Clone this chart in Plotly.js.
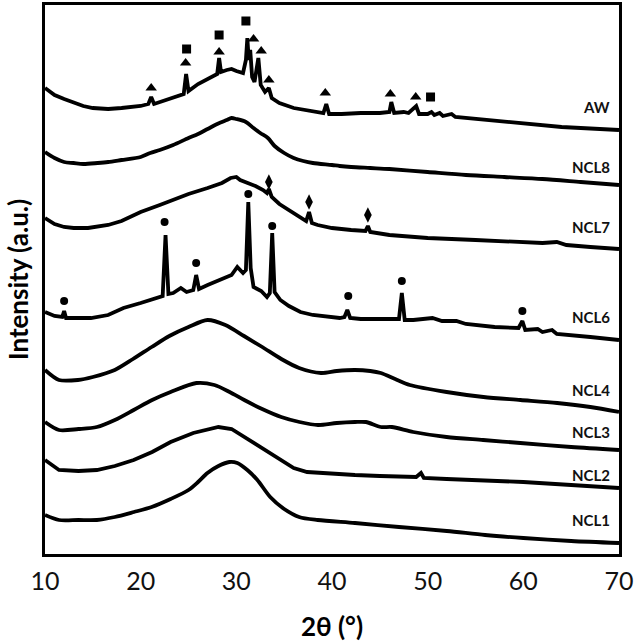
<!DOCTYPE html>
<html><head><meta charset="utf-8">
<script src="https://cdn.plot.ly/plotly-3.0.1.min.js"></script>
<style>html,body{margin:0;padding:0;background:#fff}</style>
</head><body><div id="chart" style="width:634px;height:642px"></div>
<script>
// 2θ (degrees) and intensity (a.u., stacked offsets)
const awX = [10,11,12,13,14,15,16.6,18,20,20.8,21.1,21.4,22,23,24,24.5,24.75,25.0,26,27,28,28.2,28.4,29,29.5,30,30.7,31.0,31.15,31.3,31.45,31.65,31.9,32.3,32.55,33.0,33.4,33.7,34.5,36,38,39.1,39.4,39.7,41,43,45,46.0,46.2,46.5,47.5,48.0,48.8,49.1,50.0,50.4,50.7,51.25,51.6,52.5,52.9,54,56,58,60,62,64,66,68,70];
const awY = [467,460,456,452,449,447,446,447,449,451,458,451,453,456,459,461,481,464,471,476,481,497,483,485,486,484,482,495,517,495,505,478,473,497,470,463,467,457,452,447,444,442,451,441,441,442,442,443,453,442,443,442,449,441,441,443,440,442,439,441,438,437,435,433,431,429,428,427,426,425];

const ncl8X = [10,11,12,13,14,15.5,16.6,18,20,21,22,23.4,25,26,27,28,29,29.5,30,31,31.8,32.5,33.3,34,35,36,37,38,40,40.8,42,44,46,50,54,58,62,66,70];
const ncl8Y = [403,397,393,392,391,392,393,395,398,402,405,410,417,421,426,431,435,437,436,433,427,422,417,409,402,397,394,392,390,389,388,387,386,383,380,378,376,373,370];

const ncl7X = [10,11,12,13,14.5,16.6,18,20,22,23.4,25,27,28.5,29.4,30,30.4,31,32,32.8,33.2,33.4,33.7,34.5,35.5,36.5,37.3,37.6,37.9,38.5,40,42,43.5,43.75,44.0,46,50,55,60,62,63.5,64.5,67,70];
const ncl7Y = [337,331,328,327,327,330,334,343,350,355,361,367,372,377,378,375,373,369,365,362,366,358,351,345,339,334,343,332,330,327,325,324,329,323,320,317,315,313,312,313,310,308,306];

const ncl6X = [10,11.0,11.8,12.0,12.2,13,14.8,16.6,18.2,20,21.6,22.3,22.6,22.9,23.4,24.2,24.8,25.5,25.8,26.1,27,28,28.6,29.5,30.1,30.7,31.0,31.25,31.5,31.8,32.6,33.2,33.5,33.75,34.0,34.6,35.5,36.7,38,40,40.8,41.3,41.6,41.9,43,45,47.0,47.3,47.6,48.5,50.5,51.5,53.0,54,55.1,57,59.5,59.9,60.2,61.5,62,63,63.5,65,67,70];
const ncl6Y = [243,239,238,244,237,237,237,240,247,252,257,259,320,261,262,267,263,265,280,266,270,274,277,280,288,282,285,353,287,268,264,258,262,322,263,255,249,243,240,238,237,238,245,237,236,236,236,262,235,235,237,234,234,231,230,228,227,234,225,226,223,225,221,220,218,215];

const ncl4X = [10,11.46,13.44,15.0,17.29,19.2,21.15,23,25.0,26.98,28.85,30.8,32.71,34.7,36.56,38.85,40.5,42.4,44,45.1,46.6,48.13,51.98,55.83,59.7,63.54,67,70];
const ncl4Y = [185,175,175,178,185,196,208,219,228,235,230,219,208,196,187,182,184,185,184,182,176,170,163,158,155,152,148,143];

const ncl3X = [10,11.46,13.5,15.42,17.3,19.27,21.2,23.13,25.83,27.71,29.3,30.83,32.7,34.69,36.6,38.54,40.5,42.4,43.54,45.1,46.25,48.5,51.98,55.8,59.69,65,70];
const ncl3Y = [133,125,126,128,135,145,155,163,172,170,163,155,146,138,133,130,132,133,133,128,128,123,118,115,112,108,105];

const ncl2X = [10,11.46,13.5,15.42,17.3,19.27,21.2,23.13,25.5,28.13,29.5,30.83,32.7,34.69,36,37.4,40,42.4,45,48.8,49.3,49.6,51.98,55.83,60,65,70];
const ncl2Y = [95,85,84,85,89,95,103,113,122,128,126,118,106,95,87,83,81,80,79,78,82,77,76,75,73,70,67];

const ncl1X = [10,11.46,13.5,15.42,17.3,19.3,21.15,23.13,25.0,26.0,26.98,28.13,29.27,30.1,31.15,32.2,33.54,35.0,36.56,38.5,42.4,47,52,56,60,65,70];
const ncl1Y = [40,35,35,35,38,43,48,56,65,73,82,89,93,92,85,75,58,46,38,35,32,28,24,20,17,14,12];

// phase markers
const triX = [21.1,24.7,28.2,31.8,32.6,33.4,39.3,46.1,48.75];
const triY = [467,492,503,516,504,475,462,461,458];
const sqX = [24.8,28.2,31.0,50.3];
const sqY = [506,520,534,458];
const dotX = [12.0,22.5,25.8,31.25,33.75,41.7,47.3,59.9];
const dotY = [254,333,292,361,329,259,274,244];
const diaX = [33.4,37.6,43.75];
const diaY = [373,353,340];

const labels = ["AW","NCL8","NCL7","NCL6","NCL4","NCL3","NCL2","NCL1"];
const labelY = [448,388,328,238,165,123,80,35];
const smoothCurve = [false,true,false,false,true,true,false,true];

const series = [[awX,awY],[ncl8X,ncl8Y],[ncl7X,ncl7Y],[ncl6X,ncl6Y],[ncl4X,ncl4Y],[ncl3X,ncl3Y],[ncl2X,ncl2Y],[ncl1X,ncl1Y]];
const traces = series.map((s,i)=>({x:s[0],y:s[1],type:'scatter',mode:'lines',name:labels[i],
  line:{color:'#000',width:3.8,shape:smoothCurve[i]?'spline':'linear',smoothing:0.8},hoverinfo:'skip'}));
traces.push({x:triX,y:triY,mode:'markers',type:'scatter',marker:{symbol:'triangle-up',size:10,color:'#000'}});
traces.push({x:sqX,y:sqY,mode:'markers',type:'scatter',marker:{symbol:'square',size:9,color:'#000'}});
traces.push({x:dotX,y:dotY,mode:'markers',type:'scatter',marker:{symbol:'circle',size:8,color:'#000'}});
traces.push({x:diaX,y:diaY,mode:'markers',type:'scatter',marker:{symbol:'diamond-tall',size:11,color:'#000'}});

const annotations = labels.map((t,i)=>({text:'<b>'+t+'</b>',x:69.3,y:labelY[i],xref:'x',yref:'y',xanchor:'right',yanchor:'middle',
  showarrow:false,font:{family:'Lato',size:15,color:'#111'}}));

const layout = {
  width:634,height:642,showlegend:false,
  paper_bgcolor:'#fff',plot_bgcolor:'#fff',
  margin:{l:45,r:15,t:5,b:88},
  xaxis:{range:[10,70],tickvals:[10,20,30,40,50,60,70],ticks:'',showgrid:false,zeroline:false,
    showline:true,mirror:true,linewidth:3,linecolor:'#000',
    tickfont:{family:'Lato',size:25,color:'#111'},ticklabelstandoff:3,
    title:{text:'<b>2θ (°)</b>',font:{family:'Lato',size:26,color:'#000'},standoff:26}},
  yaxis:{range:[1,550],showticklabels:false,ticks:'',showgrid:false,zeroline:false,
    showline:true,mirror:true,linewidth:3,linecolor:'#000',
    title:{text:'<b>Intensity (a.u.)</b>',font:{family:'Lato',size:26,color:'#000'},standoff:6}},
  annotations:annotations
};
Plotly.newPlot('chart',traces,layout,{displayModeBar:false,staticPlot:true});
</script>
</body></html>
